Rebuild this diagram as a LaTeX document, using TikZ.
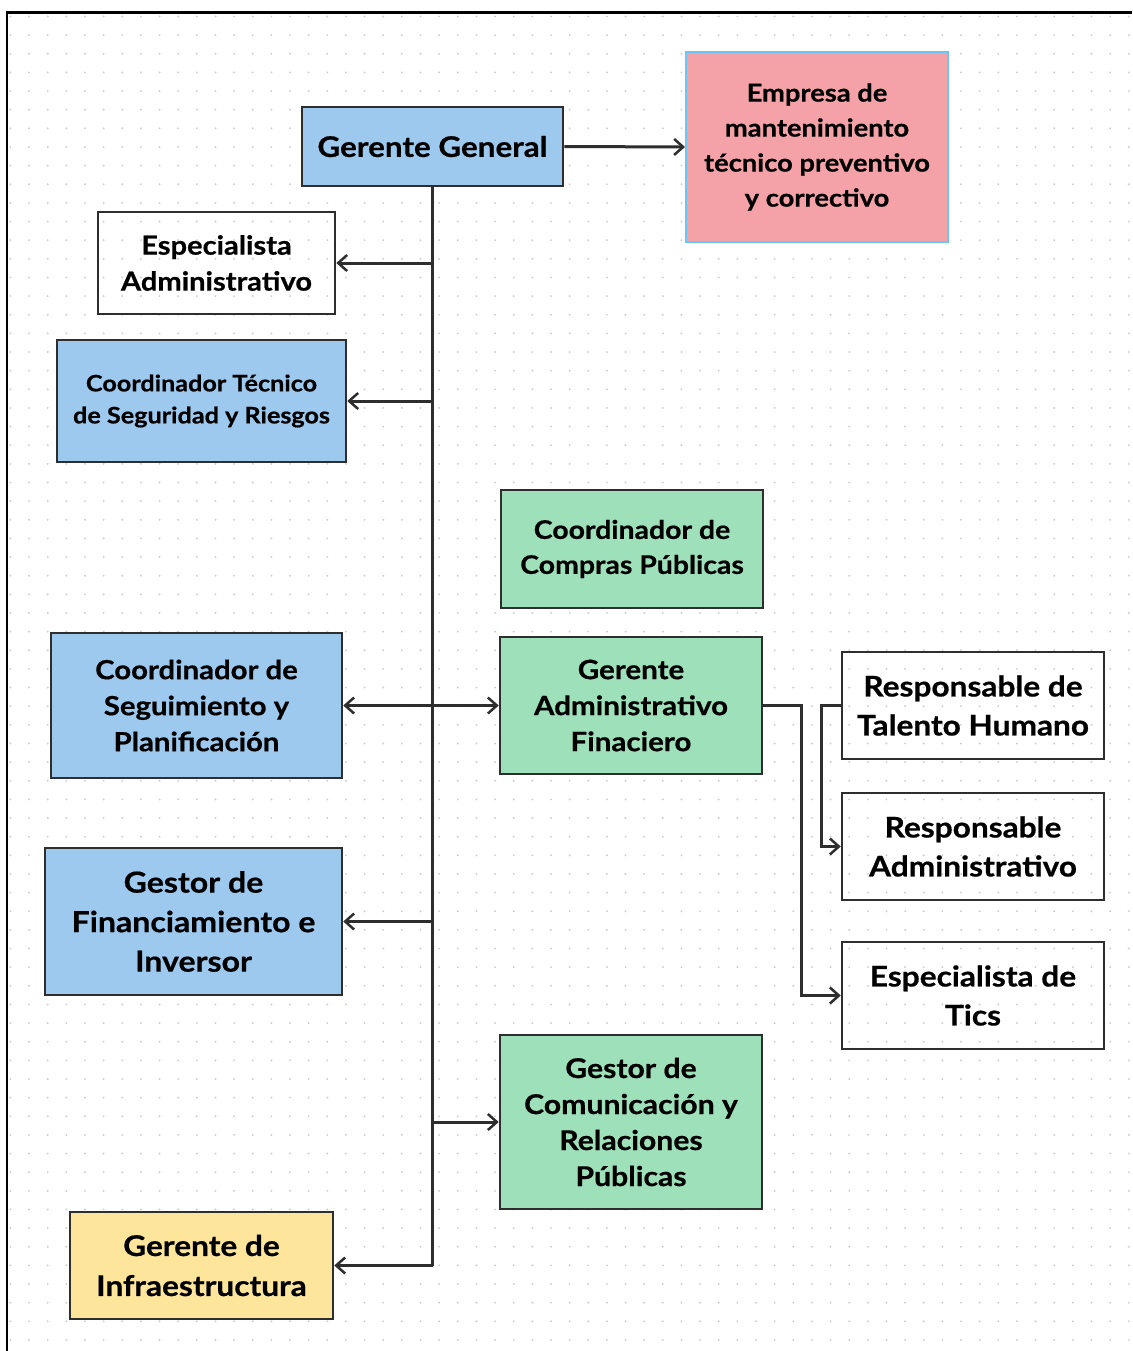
\documentclass[tikz,border=0pt]{standalone}
\usepackage{fontspec}
\setmainfont{Lato}[BoldFeatures={FakeStretch=1.11,FakeBold=0.6}]
\usetikzlibrary{arrows.meta}
\definecolor{bluefill}{HTML}{9DC9EE}
\definecolor{greenfill}{HTML}{9DE0BA}
\definecolor{pinkfill}{HTML}{F4A2A8}
\definecolor{yellowfill}{HTML}{FDE59C}
\definecolor{edge}{HTML}{2E2E2E}
\definecolor{lightedge}{HTML}{6CC6F2}
\definecolor{dotc}{HTML}{D0D0D0}
\tikzset{
  box/.style={draw=edge, line width=2.5pt, inner sep=0pt, align=center, text=black},
  bluebox/.style={box, fill=bluefill},
  greenbox/.style={box, fill=greenfill},
  yellowbox/.style={box, fill=yellowfill},
  plainbox/.style={box},
  pinkbox/.style={draw=lightedge, line width=2pt, fill=pinkfill, inner sep=0pt, align=center, text=black},
  conn/.style={draw=edge, line width=3pt},
  arr/.style={conn, -{Straight Barb[length=9pt,width=16pt,line width=2.5pt]}}
}
\begin{document}
\begin{tikzpicture}[x=1pt,y=-1pt]
\useasboundingbox (0,0) rectangle (1132,1351);
\fill[white] (0,0) rectangle (1132,1351);
% dot grid
\foreach \i in {0,...,60}{
  \foreach \j in {0,...,72}{
    \fill[dotc] ({10.4+18.64*\i},{16.5+18.64*\j}) circle (1.1pt);
  }
}
% frame
\draw[black, line width=2.5pt] (7,1351) -- (7,12.5) -- (1132,12.5);

\node[bluebox, minimum width=261, minimum height=79, font=\bfseries\fontsize{28.3}{36}\selectfont] (gg) at (432.5,146.5) {Gerente General};
\node[pinkbox, minimum width=262, minimum height=190, font=\bfseries\fontsize{24.6}{35}\selectfont] (emp) at (817,147) {Empresa de\\mantenimiento\\técnico preventivo\\y correctivo};
\node[plainbox, minimum width=237, minimum height=102, font=\bfseries\fontsize{26.2}{36}\selectfont] (ea) at (216.5,263) {Especialista\\Administrativo};
\node[bluebox, minimum width=289, minimum height=122, font=\bfseries\fontsize{22.7}{32}\selectfont] (ct) at (201.5,401) {Coordinador Técnico\\de Seguridad y Riesgos};
\node[greenbox, minimum width=262, minimum height=118, font=\bfseries\fontsize{25.6}{35}\selectfont] (cc) at (632,549) {Coordinador de\\Compras Públicas};
\node[greenbox, minimum width=262, minimum height=137, font=\bfseries\fontsize{26.6}{36}\selectfont] (gaf) at (631,705.5) {Gerente\\Administrativo\\Finaciero};
\node[bluebox, minimum width=291, minimum height=145, font=\bfseries\fontsize{26.4}{36}\selectfont] (cs) at (196.5,705.5) {Coordinador de\\Seguimiento y\\Planificación};
\node[plainbox, minimum width=262, minimum height=107, font=\bfseries\fontsize{28.5}{39}\selectfont] (rth) at (973,705.5) {Responsable de\\Talento Humano};
\node[plainbox, minimum width=262, minimum height=107, font=\bfseries\fontsize{28.5}{39}\selectfont] (ra) at (973,846.5) {Responsable\\Administrativo};
\node[plainbox, minimum width=262, minimum height=107, font=\bfseries\fontsize{28.5}{39}\selectfont] (tics) at (973,995.5) {Especialista de\\Tics};
\node[bluebox, minimum width=297, minimum height=147, font=\bfseries\fontsize{28.9}{39.5}\selectfont] (gf) at (193.5,921.5) {Gestor de\\Financiamiento e\\Inversor};
\node[greenbox, minimum width=262, minimum height=174, font=\bfseries\fontsize{27.2}{36}\selectfont] (gc) at (631,1122) {Gestor de\\Comunicación y\\Relaciones\\Públicas};
\node[yellowbox, minimum width=263, minimum height=107, font=\bfseries\fontsize{28.5}{40}\selectfont] (gi) at (201.5,1265.5) {Gerente de\\Infraestructura};

% connectors
\draw[arr] (gg.east) -- (emp.west);
\draw[conn] (gg.south) -- (gg.south |- gi.east);
\draw[arr] (gg.south |- gi.east) -- (gi.east);
\draw[arr] (gg.south |- ea.east) -- (ea.east);
\draw[arr] (gg.south |- ct.east) -- (ct.east);
\draw[arr] (gg.south |- cs.east) -- (cs.east);
\draw[arr] (gg.south |- gaf.west) -- (gaf.west);
\draw[arr] (gg.south |- gf.east) -- (gf.east);
\draw[arr] (gg.south |- gc.west) -- (gc.west);
\draw[arr] (gaf.east) -- ++(38,0) |- (tics.west);
\draw[arr] (rth.west) -- ++(-19,0) |- (ra.west);
\end{tikzpicture}
\end{document}
